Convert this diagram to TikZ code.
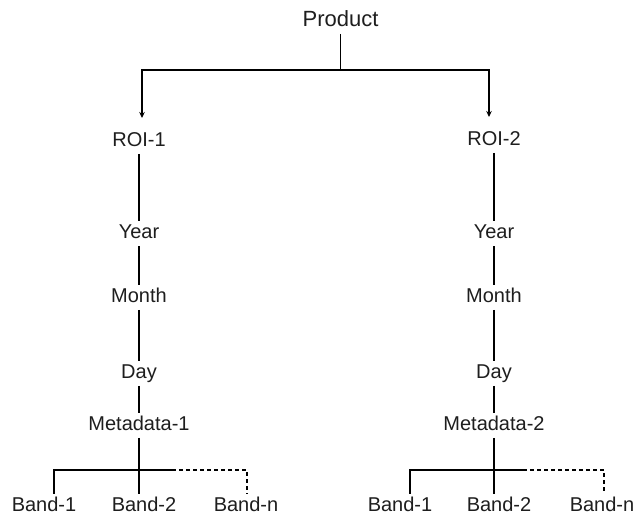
\documentclass[tikz,border=0pt]{standalone}
\usepackage{fontspec}
\setmainfont{Liberation Sans}
\usetikzlibrary{arrows.meta}
\definecolor{ink}{HTML}{1E1E1E}
\begin{document}
\begin{tikzpicture}[x=1pt,y=-1pt,
  lbl/.style={font=\fontsize{20}{24}\selectfont, text=ink, inner xsep=0pt,
              inner ysep=2.5pt, text height=15pt, text depth=5pt, anchor=base},
  link/.style={line width=1.3pt, draw=black},
  dashlink/.style={link, dash pattern=on 4pt off 3pt},
  tip/.style={-{Stealth[length=6pt,width=5.5pt]}}]
\fill[white] (0,0) rectangle (637,516);
\useasboundingbox (0,0) rectangle (637,516);

% root
\node[lbl, font=\fontsize{22}{26}\selectfont] (product) at (340.5,26.2) {Product};
\coordinate (top) at (340.5,70);
\coordinate (drop1) at (142,70);
\coordinate (drop2) at (489,70);

% left branch
\node[lbl] (roi1)  at (139,146.2) {ROI-1};
\node[lbl] (year1) at (139,238.5) {Year};
\node[lbl] (month1) at (139,302.2) {Month};
\node[lbl] (day1)  at (139,378.2) {Day};
\node[lbl] (meta1) at (139,430.2) {Metadata-1};
\node[lbl] (band11) at (44,511.2) {Band-1};
\node[lbl] (band12) at (144,511.2) {Band-2};
\node[lbl] (band1n) at (246,511.2) {Band-n};

% right branch
\node[lbl] (roi2)  at (494,145.2) {ROI-2};
\node[lbl] (year2) at (494,238.5) {Year};
\node[lbl] (month2) at (494,302.2) {Month};
\node[lbl] (day2)  at (494,378.2) {Day};
\node[lbl] (meta2) at (494,430.2) {Metadata-2};
\node[lbl] (band21) at (400,511.2) {Band-1};
\node[lbl] (band22) at (499,511.2) {Band-2};
\node[lbl] (band2n) at (602,511.2) {Band-n};

% root split
\draw[link] (product.south) -- (top);
\draw[link, tip, shorten >=10.5pt] (top) -- (drop1) -- (drop1 |- roi1.north);
\draw[link, tip, shorten >=10.5pt] (top) -- (drop2) -- (drop2 |- roi2.north);

% vertical chains
\draw[link] (roi1) -- (year1);
\draw[link] (year1) -- (month1);
\draw[link] (month1) -- (day1);
\draw[link] (day1) -- (meta1);
\draw[link] (roi2) -- (year2);
\draw[link] (year2) -- (month2);
\draw[link] (month2) -- (day2);
\draw[link] (day2) -- (meta2);

% band splits
\coordinate (b11) at (54,470);
\coordinate (s1)  at (172,470);
\coordinate (bn1) at (247,470);
\draw[link] (meta1.south) -- (meta1.south |- band12.north);
\draw[link] (b11 |- band11.north) -- (b11) -- (s1);
\draw[dashlink] (s1) -- (bn1) -- (bn1 |- band1n.north);

\coordinate (b21) at (410,470);
\coordinate (s2)  at (523,470);
\coordinate (bn2) at (604,470);
\draw[link] (meta2.south) -- (meta2.south |- band22.north);
\draw[link] (b21 |- band21.north) -- (b21) -- (s2);
\draw[dashlink] (s2) -- (bn2) -- (bn2 |- band2n.north);
\end{tikzpicture}
\end{document}
